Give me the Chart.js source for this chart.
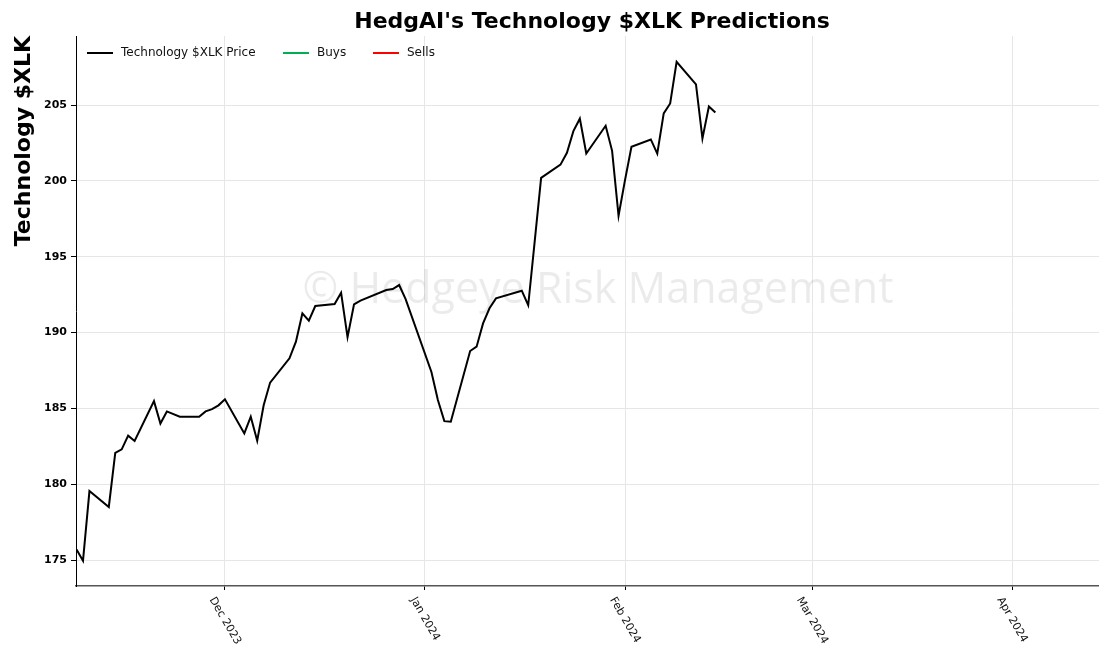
<!DOCTYPE html>
<html>
<head>
<meta charset="utf-8">
<script src="https://cdn.jsdelivr.net/npm/chart.js@4.4.1/dist/chart.umd.min.js"></script>
<style>
  body { margin: 0; background: #fff; }
  #wrap { width: 1099px; height: 652px; }
</style>
</head>
<body>
<div id="wrap"><canvas id="myChart" width="1099" height="652"></canvas></div>
<script>
// XLK daily closes
const tradeDates = [
  "2023-11-08", "2023-11-09", "2023-11-10", "2023-11-13", "2023-11-14",
  "2023-11-15", "2023-11-16", "2023-11-17", "2023-11-20", "2023-11-21",
  "2023-11-22", "2023-11-24", "2023-11-27", "2023-11-28", "2023-11-29",
  "2023-11-30", "2023-12-01", "2023-12-04", "2023-12-05", "2023-12-06",
  "2023-12-07", "2023-12-08", "2023-12-11", "2023-12-12", "2023-12-13",
  "2023-12-14", "2023-12-15", "2023-12-18", "2023-12-19", "2023-12-20",
  "2023-12-21", "2023-12-22", "2023-12-26", "2023-12-27", "2023-12-28",
  "2023-12-29", "2024-01-02", "2024-01-03", "2024-01-04", "2024-01-05",
  "2024-01-08", "2024-01-09", "2024-01-10", "2024-01-11", "2024-01-12",
  "2024-01-16", "2024-01-17", "2024-01-18", "2024-01-19", "2024-01-22",
  "2024-01-23", "2024-01-24", "2024-01-25", "2024-01-26", "2024-01-29",
  "2024-01-30", "2024-01-31", "2024-02-01", "2024-02-02", "2024-02-05",
  "2024-02-06", "2024-02-07", "2024-02-08", "2024-02-09", "2024-02-12",
  "2024-02-13", "2024-02-14", "2024-02-15",
];
const xlkPrices = [
  175.7, 174.95, 179.55, 178.5, 182.07,
  182.3, 183.2, 182.85, 185.48, 184.0,
  184.8, 184.45, 184.45, 184.8, 184.95,
  185.2, 185.6, 183.35, 184.45, 182.87,
  185.2, 186.7, 188.3, 189.4, 191.26,
  190.78, 191.75, 191.88, 192.62, 189.7,
  191.85, 192.1, 192.8, 192.87, 193.13,
  192.2, 187.4, 185.55, 184.16, 184.12,
  188.78, 189.07, 190.6, 191.6, 192.25,
  192.76, 191.8, 196.0, 200.2, 201.07,
  201.85, 203.28, 204.1, 201.8, 203.63,
  201.98, 197.7, 200.05, 202.25, 202.73,
  201.8, 204.45, 205.1, 207.85, 206.36,
  202.8, 204.9, 204.5,
];
const buyPoints = [];
const sellPoints = [];

const yTickValues = [175, 180, 185, 190, 195, 200, 205];
const monthTicks = ["2023-12-01", "2024-01-01", "2024-02-01", "2024-03-01", "2024-04-01"];
const monthLabels = ["Dec 2023", "Jan 2024", "Feb 2024", "Mar 2024", "Apr 2024"];
const xRange = ["2023-11-07T22:00:00Z", "2024-04-14T11:00:00Z"];
const yRange = [173.29, 209.55];

const FONT = "'DejaVu Sans', sans-serif";
const ctx = document.querySelector("#myChart");

const priceSeries = {
  label: "Technology $XLK Price",
  data: tradeDates.map((d, i) => ({ x: Date.parse(d), y: xlkPrices[i] })),
  borderColor: "#000",
  borderWidth: 2,
  pointRadius: 0,
  tension: 0,
  fill: false,
};
const buys = {
  label: "Buys",
  data: buyPoints,
  borderColor: "#00b050",
  backgroundColor: "#00b050",
  borderWidth: 2,
  pointRadius: 5,
  showLine: false,
};
const sells = {
  label: "Sells",
  data: sellPoints,
  borderColor: "#ff0000",
  backgroundColor: "#ff0000",
  borderWidth: 2,
  pointRadius: 5,
  showLine: false,
};

// watermark under the line, title/legend/date labels on top
const decorations = {
  id: "decorations",
  beforeDatasetsDraw(chart) {
    const c = chart.ctx;
    c.save();
    c.font = "43px 'Open Sans', sans-serif";
    c.fillStyle = "rgba(0,0,0,0.08)";
    c.textAlign = "center";
    c.textBaseline = "middle";
    c.fillText("© Hedgeye Risk Management", 598, 291);
    c.restore();
  },
  afterDraw(chart) {
    const c = chart.ctx;
    const xs = chart.scales.x;
    c.save();

    // title
    c.font = "bold 22px " + FONT;
    c.fillStyle = "#000";
    c.textAlign = "center";
    c.textBaseline = "middle";
    c.fillText("HedgAI's Technology $XLK Predictions", 592, 22);

    // legend inside the plot
    const legendX = [87, 283, 373];
    c.font = "12px " + FONT;
    c.textAlign = "left";
    chart.data.datasets.forEach((ds, i) => {
      const x0 = legendX[i];
      c.strokeStyle = ds.borderColor;
      c.lineWidth = 2;
      c.beginPath();
      c.moveTo(x0, 53);
      c.lineTo(x0 + 26, 53);
      c.stroke();
      c.fillStyle = "#111";
      c.fillText(ds.label, x0 + 34, 53);
    });

    // rotated month labels
    const theta = (60 * Math.PI) / 180;
    const h = 12;
    c.font = "11px " + FONT;
    c.fillStyle = "#111";
    c.textAlign = "center";
    c.textBaseline = "middle";
    monthTicks.forEach((d, i) => {
      const px = xs.getPixelForValue(Date.parse(d));
      const w = c.measureText(monthLabels[i]).width;
      const boxH = w * Math.sin(theta) + h * Math.cos(theta);
      c.save();
      c.translate(px, chart.chartArea.bottom + 9 + boxH / 2);
      c.rotate(theta);
      c.fillText(monthLabels[i], 0, 0);
      c.restore();
    });
    c.restore();
  },
};

const config = {
  type: "line",
  data: { datasets: [priceSeries, buys, sells] },
  options: {
    responsive: false,
    animation: false,
    layout: { padding: { top: 36, right: 0, left: 0, bottom: 0 } },
    plugins: {
      legend: { display: false },
      tooltip: { enabled: false },
    },
    scales: {
      x: {
        type: "linear",
        min: Date.parse(xRange[0]),
        max: Date.parse(xRange[1]),
        afterBuildTicks: (scale) => {
          scale.ticks = monthTicks.map((d) => ({ value: Date.parse(d) }));
        },
        afterFit: (scale) => {
          scale.height = 66;
        },
        ticks: { display: false },
        grid: { color: "#e6e6e6", tickColor: "#000", tickLength: 4 },
        border: { color: "#555", width: 1.5 },
      },
      y: {
        min: yRange[0],
        max: yRange[1],
        afterBuildTicks: (scale) => {
          scale.ticks = yTickValues.map((v) => ({ value: v }));
        },
        afterFit: (scale) => {
          scale.width = 76;
        },
        ticks: {
          color: "#000",
          padding: 4,
          font: { family: FONT, size: 11, weight: "bold" },
        },
        grid: { color: "#e6e6e6", tickColor: "#000", tickLength: 5 },
        border: { color: "#000", width: 1 },
        title: {
          display: true,
          text: "Technology $XLK",
          align: "end",
          color: "#000",
          padding: { top: 11 },
          font: { family: FONT, size: 22, weight: "bold" },
        },
      },
    },
  },
  plugins: [decorations],
};

const chart = new Chart(ctx, config);
</script>
</body>
</html>
